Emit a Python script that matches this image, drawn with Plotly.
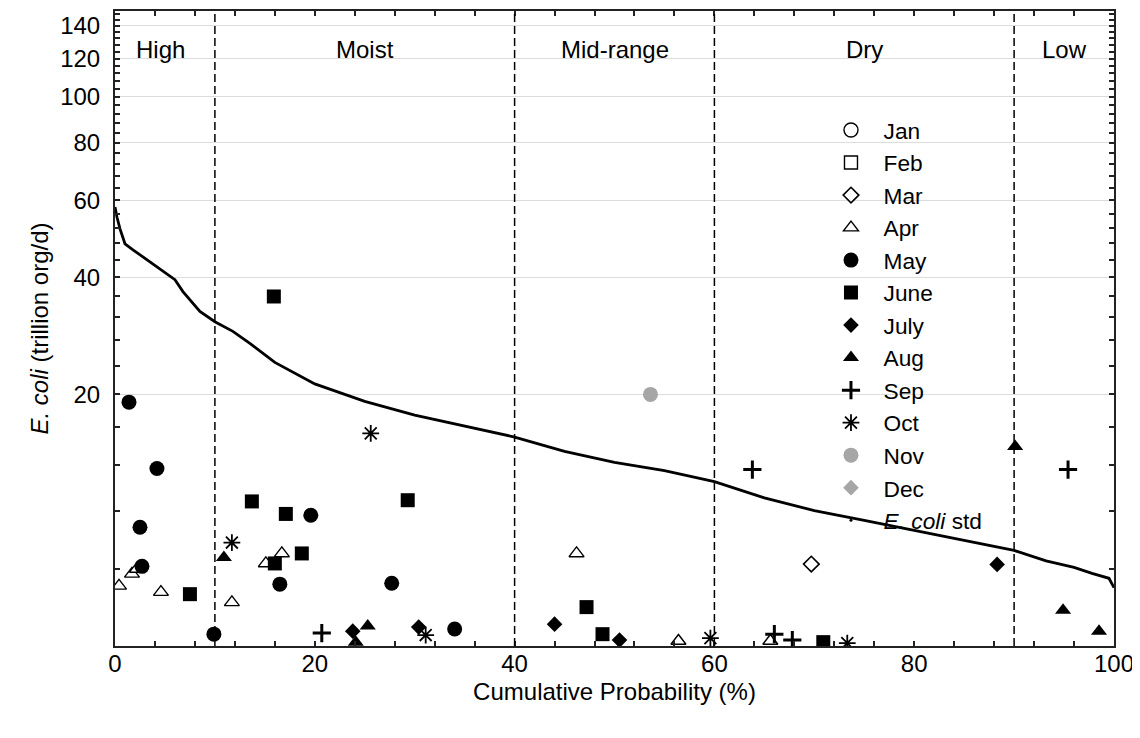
import plotly.graph_objects as go

# ---------------- data ----------------
OFFSET = 10  # the y axis is logarithmic in (value + 10), so 0 can be shown

y_tick_values = [20, 40, 60, 80, 100, 120, 140]
y_minor_values = [4, 8, 12, 16, 24, 28, 32, 36, 44, 48, 52, 56, 64, 68, 72, 76,
                  84, 88, 92, 96, 104, 108, 112, 116, 124, 128, 132, 136, 144, 148]
x_tick_values = [0, 20, 40, 60, 80, 100]

regions = ["High", "Moist", "Mid-range", "Dry", "Low"]
region_centers = [4.6, 25, 50, 75, 95]
region_bounds = [10, 40, 60, 90]

# load duration curve (E. coli standard)
curve_x = [0, 0.2, 0.5, 1.0, 1.8, 3.5, 5.2, 6.0, 6.8, 8.5, 10, 11.8, 13.5, 16, 20,
           25, 30, 35, 40, 45, 50, 55, 60, 65, 70, 75, 80, 85, 90, 93.2, 96,
           97.8, 99.5, 100]
curve_y = [58, 55, 51.8, 47.9, 46.4, 43.5, 40.8, 39.5, 37.0, 33.1, 31.2, 29.5, 27.5,
           24.5, 21.4, 19.1, 17.4, 16.1, 14.9, 13.4, 12.3, 11.5, 10.5, 9.1, 8.06,
           7.3, 6.55, 5.85, 5.18, 4.5, 4.1, 3.73, 3.44, 2.9]

jan_x, jan_y = [], []
feb_x, feb_y = [], []
mar_x, mar_y = [69.7], [4.3]
apr_x = [0.4, 1.7, 2.2, 4.6, 11.7, 15.1, 16.7, 46.2, 56.4, 65.6]
apr_y = [3.0, 3.7, 4.0, 2.65, 2.1, 4.34, 4.98, 4.98, 0.22, 0.22]
may_x = [1.4, 4.2, 2.5, 2.7, 9.9, 16.5, 19.6, 27.7, 34.0]
may_y = [19.0, 11.7, 6.8, 4.16, 0.53, 3.1, 7.7, 3.15, 0.77]
jun_x = [7.5, 13.7, 15.9, 16.0, 17.1, 18.7, 29.3, 47.2, 48.8, 70.9]
jun_y = [2.54, 8.8, 36.0, 4.34, 7.8, 4.98, 8.9, 1.85, 0.53, 0.17]
jul_x = [23.8, 30.4, 44.0, 50.5, 88.3]
jul_y = [0.67, 0.86, 1.0, 0.26, 4.28]
aug_x = [10.9, 24.1, 25.3, 90.1, 94.9, 98.5]
aug_y = [4.72, 0.17, 0.91, 13.9, 1.69, 0.67]
sep_x = [20.7, 63.8, 66.0, 67.8, 95.4]
sep_y = [0.58, 11.6, 0.53, 0.26, 11.6]
oct_x = [11.7, 25.6, 31.1, 59.6, 73.3]
oct_y = [5.71, 15.3, 0.49, 0.35, 0.13]
nov_x, nov_y = [53.6], [20.0]
dec_x, dec_y = [], []

# ---------------- figure ----------------
FONT = "Liberation Sans, Arial, sans-serif"
GRAY = "#a6a6a6"
NB = "\u00a0\u00a0"

def shift(vals):
    return [v + OFFSET for v in vals]

fig = go.Figure()

fig.add_trace(go.Scatter(x=curve_x, y=shift(curve_y), mode="lines",
                         line=dict(color="black", width=2.8), showlegend=False,
                         hoverinfo="skip"))

series = [
    ("Jan", jan_x, jan_y, "circle", "white", "black", 1.4, 14),
    ("Feb", feb_x, feb_y, "square", "white", "black", 1.4, 13),
    ("Mar", mar_x, mar_y, "diamond", "white", "black", 1.6, 12),
    ("Apr", apr_x, apr_y, "triangle-up", "white", "black", 1.4, 13),
    ("May", may_x, may_y, "circle", "black", "black", 0, 15),
    ("June", jun_x, jun_y, "square", "black", "black", 0, 14),
    ("July", jul_x, jul_y, "diamond", "black", "black", 0, 12),
    ("Aug", aug_x, aug_y, "triangle-up", "black", "black", 0, 14),
    ("Sep", sep_x, sep_y, "cross-thin-open", "black", "black", 3, 13),
    ("Oct", oct_x, oct_y, "asterisk-open", "black", "black", 1.8, 14),
    ("Nov", nov_x, nov_y, "circle", GRAY, GRAY, 0, 15),
    ("Dec", dec_x, dec_y, "diamond", GRAY, GRAY, 0, 12),
]

for name, xs, ys, sym, fill, lc, lw, size in series:
    if not xs:
        xs, ys_s = [None], [None]
    else:
        ys_s = shift(ys)
    fig.add_trace(go.Scatter(
        x=xs, y=ys_s, mode="markers", name=NB + name,
        marker=dict(symbol=sym, size=size, color=fill,
                    line=dict(color=lc, width=lw))))

fig.add_trace(go.Scatter(x=[None], y=[None], mode="markers",
                         name=NB + "<i>E. coli</i> std",
                         marker=dict(symbol="circle", size=3, color="black")))

for b in region_bounds:
    fig.add_shape(type="line", xref="x", yref="paper", x0=b, x1=b, y0=0, y1=1,
                  line=dict(color="black", width=1.5, dash="8px,4px"), layer="above")

for name, cx in zip(regions, region_centers):
    fig.add_annotation(x=cx, y=0.94, xref="x", yref="paper", text=name,
                       showarrow=False, font=dict(size=24, color="black", family=FONT),
                       xanchor="center", yanchor="middle")

fig.update_layout(
    width=1140, height=738,
    margin=dict(l=107, r=34, t=1, b=100),
    paper_bgcolor="white", plot_bgcolor="white",
    font=dict(family=FONT, size=24, color="black"),
    legend=dict(x=0.7167, y=0.846, xanchor="left", yanchor="top",
                bgcolor="rgba(0,0,0,0)", font=dict(size=22.7, family=FONT),
                itemsizing="trace"),
    xaxis=dict(range=[0, 100], tickvals=x_tick_values,
               ticks="inside", ticklen=5, tickwidth=1.5, tickcolor="#222",
               showline=True, linewidth=2, linecolor="#222", mirror="allticks",
               showgrid=False, zeroline=False,
               minor=dict(dtick=4, tick0=0, ticks="inside", ticklen=5,
                          tickwidth=1.5, tickcolor="#222", showgrid=False),
               ticklabelstandoff=-5,
               title=dict(text="Cumulative Probability (%)",
                          font=dict(size=24, family=FONT), standoff=7),
               tickfont=dict(size=24, family=FONT)),
    yaxis=dict(type="log", range=[1, 2.20412],
               tickvals=shift(y_tick_values), ticktext=[str(v) for v in y_tick_values],
               ticks="inside", ticklen=5, tickwidth=1.5, tickcolor="#222",
               showline=True, linewidth=2, linecolor="#222", mirror="allticks",
               showgrid=True, gridcolor="#dcdcdc", gridwidth=1, zeroline=False,
               minor=dict(tickmode="array", tickvals=shift(y_minor_values),
                          ticks="inside", ticklen=5, tickwidth=1.5, tickcolor="#222",
                          showgrid=False),
               ticklabelstandoff=8,
               title=dict(text="<i>E. coli</i> (trillion org/d)",
                          font=dict(size=24, family=FONT), standoff=5),
               tickfont=dict(size=24, family=FONT)),
)

fig.write_html("out.html")
